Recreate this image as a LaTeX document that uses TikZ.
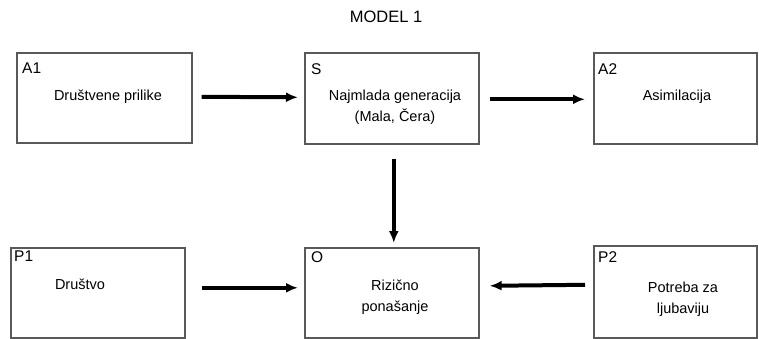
\documentclass[tikz,border=0pt]{standalone}
\usepackage{fontspec}
\setmainfont{Liberation Sans}
\usetikzlibrary{arrows.meta}
\begin{document}
\begin{tikzpicture}[x=1pt,y=-1pt,
  boxnode/.style={draw=black!65,line width=1.6pt,inner sep=0pt,anchor=north west},
  tag/.style={anchor=north west,inner sep=0pt,font=\fontsize{15.5}{15.5}\selectfont},
  txt/.style={inner sep=0pt,align=center,font=\fontsize{14.5}{20.5}\selectfont},
  flow/.style={line width=4pt,-{Latex[length=12pt,width=10pt]}}]
\useasboundingbox (0,0) rectangle (759,339);
\fill[white] (0,0) rectangle (759,339);

\node[inner sep=0pt,font=\fontsize{16.5}{16.5}\selectfont] (title) at (386,17) {MODEL 1};

% boxes
\node[boxnode,minimum width=175pt,minimum height=90pt] (A1) at (16,52) {};
\node[boxnode,minimum width=174pt,minimum height=91pt] (S)  at (304,52) {};
\node[boxnode,minimum width=163pt,minimum height=91pt] (A2) at (593,52) {};
\node[boxnode,minimum width=174pt,minimum height=90pt] (P1) at (10,247) {};
\node[boxnode,minimum width=174pt,minimum height=90pt] (O)  at (304,247) {};
\node[boxnode,minimum width=163pt,minimum height=92pt] (P2) at (593,245) {};

% corner tags
\node[tag] (tA1) at (22,63)  {A1};
\node[tag] (tS)  at (311,63) {S};
\node[tag] (tA2) at (598,63) {A2};
\node[tag] (tP1) at (14,251) {P1};
\node[tag] (tO)  at (311,251) {O};
\node[tag] (tP2) at (598,251) {P2};

% box texts
\node[txt] (xA1) at (108,97)  {Društvene prilike};
\node[txt] (xS)  at (395,107) {Najmlada generacija\\(Mala, Čera)};
\node[txt] (xA2) at (677,97)  {Asimilacija};
\node[txt] (xP1) at (80,284)  {Društvo};
\node[txt] (xO)  at (395,297) {Rizično\\ponašanje};
\node[txt] (xP2) at (683,299) {Potreba za\\ljubaviju};

% connectors (yshift is measured upward on the canvas)
\draw[flow] ([xshift=9pt,yshift=1pt]A1.east) -- ([xshift=-6pt,yshift=1pt]S.west);
\draw[flow] ([xshift=10pt,yshift=-1pt]S.east) -- ([xshift=-8pt,yshift=-1pt]A2.west);
\draw[flow] ([xshift=2pt,yshift=-14pt]S.south) -- ([xshift=2pt,yshift=4pt]O.north);
\draw[flow] ([xshift=16pt,yshift=5pt]P1.east) -- ([xshift=-6pt,yshift=5pt]O.west);
\draw[flow] ([xshift=-8pt,yshift=7pt]P2.west) -- ([xshift=10pt,yshift=7pt]O.east);
\end{tikzpicture}
\end{document}
